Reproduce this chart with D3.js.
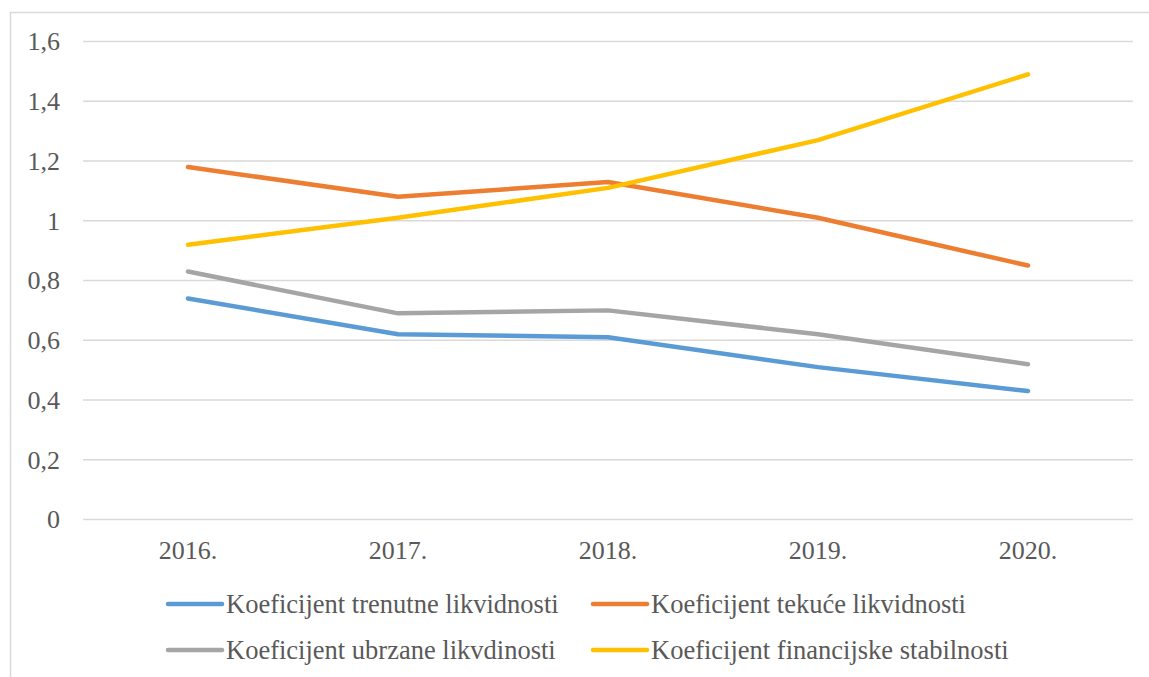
<!DOCTYPE html>
<html>
<head>
<meta charset="utf-8">
<script src="https://cdn.jsdelivr.net/npm/d3@7"></script>
<style>
	html, body { margin: 0; padding: 0; background: #fff; overflow: hidden; }
</style>
</head>
<body>
<div id="chart"></div>
<script>
// data
var years = ["2016.", "2017.", "2018.", "2019.", "2020."];
var trenutne = [0.74, 0.62, 0.61, 0.51, 0.43];
var tekuce = [1.18, 1.08, 1.13, 1.01, 0.85];
var ubrzane = [0.83, 0.69, 0.70, 0.62, 0.52];
var stabilnosti = [0.92, 1.01, 1.11, 1.27, 1.49];
var seriesNames = [
	"Koeficijent trenutne likvidnosti",
	"Koeficijent tekuće likvidnosti",
	"Koeficijent ubrzane likvdinosti",
	"Koeficijent financijske stabilnosti"
];
var yTicks = [0, 0.2, 0.4, 0.6, 0.8, 1, 1.2, 1.4, 1.6];

var colors = ["#5b9bd5", "#ed7d31", "#a5a5a5", "#ffc000"];
var series = [trenutne, tekuce, ubrzane, stabilnosti].map(function (v, i) {
	return { name: seriesNames[i], values: v, color: colors[i] };
});

var fontFamily = "Liberation Serif";
var textColor = "#595959";

var width = 1149, height = 677;
var svg = d3.select("#chart").append("svg")
	.attr("width", width)
	.attr("height", height)
	.attr("font-family", fontFamily);

//chart border
svg.append("rect")
	.attr("x", 10.5).attr("y", 12.5)
	.attr("width", 1160).attr("height", 700)
	.attr("fill", "none")
	.attr("stroke", "#d9d9d9")
	.attr("stroke-width", 1.5);

var x = d3.scalePoint().domain(years).range([83, 1133]).padding(0.5);
var y = d3.scaleLinear().domain([0, 1.6]).range([519.5, 41.5]);

//gridlines
svg.append("g").selectAll("line")
	.data(yTicks)
	.enter()
	.append("line")
	.attr("x1", 83).attr("x2", 1133)
	.attr("y1", function (d) { return y(d); })
	.attr("y2", function (d) { return y(d); })
	.attr("stroke", "#d9d9d9")
	.attr("stroke-width", 1.5);

//y labels
svg.append("g").selectAll("text")
	.data(yTicks)
	.enter()
	.append("text")
	.attr("x", 60)
	.attr("y", function (d) { return y(d); })
	.attr("dy", "0.34em")
	.attr("text-anchor", "end")
	.style("font-family", fontFamily)
	.style("font-size", "26px")
	.style("fill", textColor)
	.text(function (d) { return String(+d.toFixed(1)).replace(".", ","); });

//x labels
svg.append("g").selectAll("text")
	.data(years)
	.enter()
	.append("text")
	.attr("x", function (d) { return x(d); })
	.attr("y", 559)
	.attr("text-anchor", "middle")
	.style("font-family", fontFamily)
	.style("font-size", "26px")
	.style("fill", textColor)
	.text(function (d) { return d; });

//lines
var line = d3.line()
	.x(function (d, i) { return x(years[i]); })
	.y(function (d) { return y(d); });

svg.append("g").selectAll("path")
	.data(series)
	.enter()
	.append("path")
	.attr("d", function (d) { return line(d.values); })
	.attr("fill", "none")
	.attr("stroke", function (d) { return d.color; })
	.attr("stroke-width", 4.5)
	.attr("stroke-linecap", "round")
	.attr("stroke-linejoin", "round");

//legend
var legendPos = [[168, 604], [593, 604], [168, 650], [593, 650]];
var legend = svg.append("g").selectAll("g")
	.data(series)
	.enter()
	.append("g")
	.attr("transform", function (d, i) { return "translate(" + legendPos[i][0] + "," + legendPos[i][1] + ")"; });

legend.append("line")
	.attr("x1", 0).attr("x2", 54)
	.attr("y1", 0).attr("y2", 0)
	.attr("stroke", function (d) { return d.color; })
	.attr("stroke-width", 4.5)
	.attr("stroke-linecap", "round");

legend.append("text")
	.attr("x", 58)
	.attr("y", 0)
	.attr("dy", "0.34em")
	.style("font-family", fontFamily)
	.style("font-size", "26.5px")
	.style("fill", textColor)
	.text(function (d) { return d.name; });
</script>
</body>
</html>
